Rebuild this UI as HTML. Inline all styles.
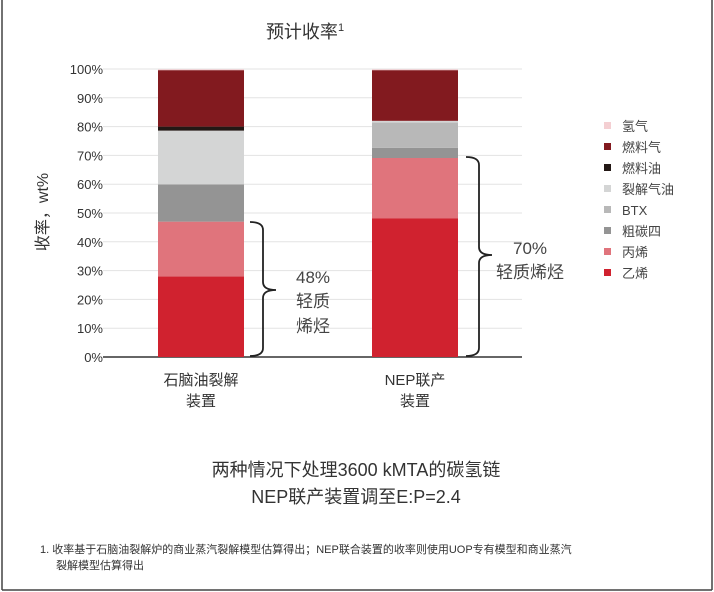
<!DOCTYPE html>
<html><head><meta charset="utf-8"><style>
html,body{margin:0;padding:0;background:#fff;}
svg{display:block;font-family:"Liberation Sans","Noto Sans CJK SC",sans-serif;}
</style></head><body>
<svg id="chart" width="714" height="592" viewBox="0 0 714 592" xmlns="http://www.w3.org/2000/svg">
<line x1="2" y1="0" x2="2" y2="590" stroke="#444" stroke-width="1.5"/>
<line x1="712" y1="0" x2="712" y2="590" stroke="#444" stroke-width="1.5"/>
<line x1="2" y1="590" x2="712" y2="590" stroke="#444" stroke-width="1.5"/>
<text x="305" y="38" font-size="18" fill="#333" text-anchor="middle">预计收率<tspan font-size="11" dy="-7">1</tspan></text>
<text transform="translate(48,212) rotate(-90)" font-size="16" fill="#333" text-anchor="middle">收率，wt%</text>
<g id="grid"></g><g id="bars"></g><g id="legend"></g>
<g fill="none" stroke="#222" stroke-width="1.8">
<path d="M250,222 Q263,222 263,230 L263,282 Q263,290 276,290 Q263,290 263,298 L263,348 Q263,356 250,356"/>
</g>
<text font-size="17" fill="#444"><tspan x="296" y="283">48%</tspan><tspan x="296" y="307">轻质</tspan><tspan x="296" y="332">烯烃</tspan></text>
<g fill="none" stroke="#222" stroke-width="1.8">
<path d="M466,157 Q479,157 479,165 L479,247 Q479,255 492,255 Q479,255 479,263 L479,348 Q479,356 466,356"/>
</g>
<text font-size="17" fill="#444"><tspan x="513" y="254">70%</tspan><tspan x="496" y="278">轻质烯烃</tspan></text>
<text font-size="15" fill="#333" text-anchor="middle"><tspan x="201" y="385">石脑油裂解</tspan><tspan x="201" y="406">装置</tspan></text>
<text font-size="15" fill="#333" text-anchor="middle"><tspan x="415" y="385">NEP联产</tspan><tspan x="415" y="406">装置</tspan></text>
<text font-size="18" fill="#333" text-anchor="middle"><tspan x="356" y="476">两种情况下处理3600 kMTA的碳氢链</tspan><tspan x="356" y="503">NEP联产装置调至E:P=2.4</tspan></text>
<text font-size="11" fill="#333"><tspan x="40" y="553">1.  收率基于石脑油裂解炉的商业蒸汽裂解模型估算得出；NEP联合装置的收率则使用UOP专有模型和商业蒸汽</tspan><tspan x="56" y="569">裂解模型估算得出</tspan></text>
</svg>
<script>
const categories=["石脑油裂解","NEP联产"];
const seriesNames=["乙烯","丙烯","粗碳四","BTX","裂解气油","燃料油","燃料气","氢气"];
const ethylene=[28,48.2];
const propylene=[19,20.9];
const crudeC4=[12.9,3.5];
const btx=[0,8.8];
const crackedGasOil=[18.7,0.6];
const fuelOil=[1.4,0];
const fuelGas=[19.6,17.6];
const hydrogen=[0.3,0.3];
const tickLabels=["0%","10%","20%","30%","40%","50%","60%","70%","80%","90%","100%"];
const colors=["#d0222f","#e0747c","#949494","#b8b8b8","#d4d5d5","#231815","#821a1f","#f4cfd2"];
const series=[ethylene,propylene,crudeC4,btx,crackedGasOil,fuelOil,fuelGas,hydrogen];
const NS="http://www.w3.org/2000/svg";
const y0=357,y100=69;
function yScale(v){return y0-(y0-y100)*v/100;}
const barX=[158,372],barW=86;
function xScale(i){return barX[i];}
const grid=document.getElementById('grid');
tickLabels.forEach((t,i)=>{
  const v=i*10;const y=yScale(v);
  const l=document.createElementNS(NS,'line');
  
  
  l.setAttribute('x1',103);l.setAttribute('x2',522);l.setAttribute('y1',y);l.setAttribute('y2',y);
  l.setAttribute('stroke',i===0?'#333':'#e3e3e3');l.setAttribute('stroke-width',i===0?1.5:1);
  grid.appendChild(l);
  const tx=document.createElementNS(NS,'text');
  
  
  tx.setAttribute('x',103);tx.setAttribute('y',y+5);tx.setAttribute('text-anchor','end');
  tx.setAttribute('font-size','13');tx.setAttribute('fill','#333');
  tx.textContent=t;grid.appendChild(tx);
});
const bars=document.getElementById('bars');
categories.forEach((c,i)=>{
  let cum=0;
  series.forEach((s,k)=>{
    const v=s[i];if(v<=0){return;}
    const r=document.createElementNS(NS,'rect');
    
    
    r.setAttribute('x',xScale(i));r.setAttribute('width',barW);
    r.setAttribute('y',yScale(cum+v));r.setAttribute('height',yScale(cum)-yScale(cum+v));
    r.setAttribute('fill',colors[k]);
    bars.appendChild(r);cum+=v;
  });
});
const legend=document.getElementById('legend');
const order=[7,6,5,4,3,2,1,0];
order.forEach((k,j)=>{
  const y=126+j*21;
  const sq=document.createElementNS(NS,'rect');
  
  
  sq.setAttribute('x',604);sq.setAttribute('y',y-4);sq.setAttribute('width',7);sq.setAttribute('height',7);
  sq.setAttribute('fill',colors[k]);legend.appendChild(sq);
  const t=document.createElementNS(NS,'text');
  
  
  t.setAttribute('x',622);t.setAttribute('y',y+5);t.setAttribute('font-size','13');t.setAttribute('fill','#444');
  t.textContent=seriesNames[k];legend.appendChild(t);
});
</script>
</body></html>
